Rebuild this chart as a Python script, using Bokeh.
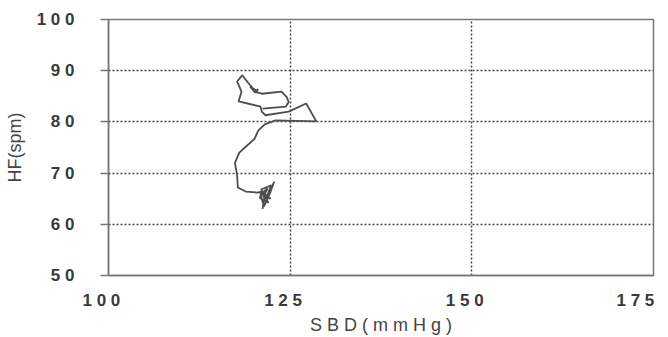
from bokeh.plotting import figure
from bokeh.models import Range1d, FixedTicker
from bokeh.embed import file_html
from bokeh.resources import INLINE

# trajectory: systolic blood pressure (mmHg) vs heart rate (spm)
sbd = [121.2, 121.6, 120.8, 122.0, 121.0, 122.4, 121.6, 122.8, 122.2, 121.4,
       120.9, 121.9, 121.3, 122.3, 121.1, 120.5,
       118.9, 117.8, 117.7, 117.4, 118.0, 119.0, 120.1, 120.6, 121.5,
       123.0, 128.6, 127.2, 124.8, 121.6, 121.1, 120.9, 117.9, 118.3, 117.7,
       118.4, 119.3, 119.9, 120.4, 119.5, 120.2, 120.6, 120.1, 121.1, 123.8,
       124.5, 124.8, 124.4, 121.2]
hf = [63.0, 66.5, 65.2, 64.2, 66.8, 67.6, 64.8, 68.3, 66.0, 63.5,
      65.9, 67.0, 65.4, 65.0, 66.4, 66.2,
      66.4, 67.2, 69.5, 72.0, 74.0, 75.3, 76.7, 78.3, 79.5,
      80.3, 80.1, 83.6, 82.0, 81.3, 82.0, 83.0, 84.0, 85.9, 87.9,
      89.1, 87.5, 86.5, 86.1, 86.9, 85.7, 86.4, 85.9, 85.5, 85.9,
      84.9, 83.9, 83.0, 82.6]

x_ticks = [100, 125, 150, 175]
y_ticks = [50, 60, 70, 80, 90, 100]
x_labels = {100: "1 0 0", 125: "1 2 5", 150: "1 5 0", 175: "1 7 5"}
y_labels = {50: "5 0", 60: "6 0", 70: "7 0", 80: "8 0", 90: "9 0", 100: "1 0 0"}

p = figure(width=668, height=337, output_backend="svg", toolbar_location=None,
           x_range=Range1d(100, 175), y_range=Range1d(50, 100),
           min_border_left=108, min_border_right=15, min_border_top=19,
           min_border_bottom=62)
p.background_fill_color = "white"
p.border_fill_color = "white"
p.outline_line_color = "#777777"
p.outline_line_width = 1.5

p.line(sbd, hf, line_color="#4d4d4d", line_width=1.8)

NB = "\u00a0"
for ax, ticks in ((p.xaxis[0], x_ticks), (p.yaxis[0], y_ticks)):
    ax.ticker = FixedTicker(ticks=ticks)
    ax.minor_tick_line_color = None
    ax.axis_line_color = "#777777"
    ax.axis_line_width = 1.5
    ax.major_tick_line_color = "#777777"
    ax.major_tick_line_width = 1.5
    ax.major_tick_in = 0
    ax.major_label_text_font = "Liberation Sans"
    ax.major_label_text_font_style = "bold"
    ax.major_label_text_font_size = "17px"
    ax.major_label_text_color = "#3a3a3a"
    ax.axis_label_text_font = "Liberation Sans"
    ax.axis_label_text_font_style = "normal"
    ax.axis_label_text_font_size = "18px"
    ax.axis_label_text_color = "#444444"

p.xaxis[0].major_label_overrides = {k: v + NB * 3 for k, v in x_labels.items()}
p.yaxis[0].major_label_overrides = y_labels
p.xaxis[0].major_tick_out = 0
p.xaxis[0].major_label_standoff = 15
p.xaxis[0].axis_label = "S B D ( m m H g )"
p.xaxis[0].axis_label_standoff = 2
p.yaxis[0].major_tick_out = 8
p.yaxis[0].major_label_standoff = 26
p.yaxis[0].axis_label = "HF(spm)"
p.yaxis[0].axis_label_standoff = 9

p.xgrid.ticker = FixedTicker(ticks=x_ticks)
p.ygrid.ticker = FixedTicker(ticks=y_ticks)
for g in (p.xgrid[0], p.ygrid[0]):
    g.grid_line_color = "#444444"
    g.grid_line_width = 1.5
    g.grid_line_dash = "2 2"

open("out.html", "w").write(file_html(p, INLINE))
